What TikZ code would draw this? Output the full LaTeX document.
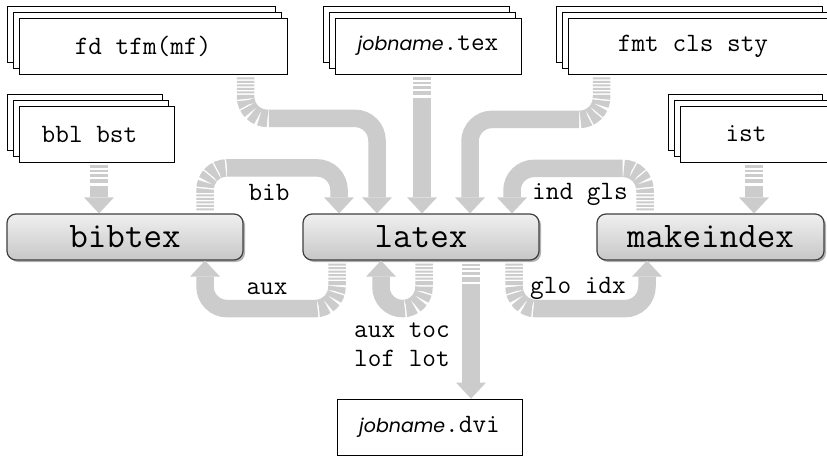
\documentclass[tikz,border=0pt]{standalone}
\usepackage{fontspec}
\newfontfamily\jobfont{Poppins}
\usetikzlibrary{arrows.meta,shadows}
\definecolor{flowgray}{RGB}{204,204,204}
\begin{document}
\begin{tikzpicture}[x=1pt,y=-1pt,
  filefont/.style={font=\ttfamily\fontsize{26.5}{29}\selectfont},
  doc/.style={draw, line width=0.8pt, fill=white, inner sep=0pt, filefont,
    general shadow={shadow xshift=-12pt,shadow yshift=12pt,draw,fill=white,line width=0.8pt},
    general shadow={shadow xshift=-6pt,shadow yshift=6pt,draw,fill=white,line width=0.8pt}},
  single/.style={draw, line width=0.8pt, fill=white, inner sep=0pt, filefont},
  proc/.style={rounded corners=9pt, draw=black!75, line width=1.2pt,
    top color=black!6, middle color=white, bottom color=black!22, inner sep=0pt,
    font=\ttfamily\fontsize{36}{40}\selectfont,
    drop shadow={shadow xshift=2pt,shadow yshift=-2pt,opacity=0.6}},
  lbl/.style={font=\ttfamily\fontsize{26.5}{29}\selectfont, inner sep=0pt},
  flow/.style={draw=flowgray, line width=17.5pt,
    -{Triangle[width=30pt,length=16pt,line width=0pt]},
    rounded corners=22pt, shorten <=3pt},
  fadeshort/.style={dash pattern=on 2.3pt off 2pt on 2.3pt off 2pt on 2.7pt off 2.3pt on 4.3pt off 2.3pt on 2000pt off 1pt},
  fadelong/.style={dash pattern=on 2pt off 1.5pt on 2pt off 1.5pt on 2pt off 1.5pt on 2pt off 1.5pt on 2pt off 1.5pt on 4pt off 1.5pt on 5pt off 1.5pt on 6pt off 1.5pt on 7pt off 1.5pt on 8pt off 1.5pt on 2000pt off 1pt},
]
\useasboundingbox[fill=white] (0,0) rectangle (827,455);

% file boxes
\node[doc, minimum width=268pt, minimum height=56pt] (fd) at (153,46) {fd tfm(mf)\hspace*{20pt}};
\node[doc, minimum width=186pt, minimum height=56pt] (jt) at (428,46) {{\jobfont\itshape\fontsize{19}{22}\selectfont jobname}.tex};
\node[doc, minimum width=266pt, minimum height=56pt] (fmt) at (701,46) {fmt cls sty\hspace*{16pt}};
\node[doc, minimum width=155pt, minimum height=56pt] (bbl) at (96.5,134) {bbl bst\hspace*{14pt}};
\node[doc, minimum width=154pt, minimum height=56pt] (ist) at (757,134) {ist\hspace*{22pt}};
\node[single, minimum width=185pt, minimum height=56pt] (dvi) at (429.5,427) {{\jobfont\itshape\fontsize{19}{22}\selectfont jobname}.dvi};

% programs
\node[proc, minimum width=236pt, minimum height=46pt] (bibtex) at (125,237) {bibtex};
\node[proc, minimum width=236pt, minimum height=46pt] (latex) at (421,237) {latex};
\node[proc, minimum width=227pt, minimum height=46pt] (makeindex) at (710.5,237) {makeindex};

% flows
\draw[flow, fadelong] ([xshift=92.5pt]fd.south) -- ++(0,44) -| ([xshift=-44pt]latex.north);
\draw[flow, fadeshort] ([xshift=-6pt]jt.south) -- ([xshift=1pt]latex.north);
\draw[flow, fadelong] ([xshift=-99.5pt]fmt.south) -- ++(0,45) -| ([xshift=49pt]latex.north);
\draw[flow, fadeshort] ([xshift=2.5pt]bbl.south) -- ([xshift=-26pt]bibtex.north);
\draw[flow, fadeshort] ([xshift=-3pt]ist.south) -- ([xshift=43.5pt]makeindex.north);
\draw[flow, fadelong] ([xshift=80pt]bibtex.north) -- ++(0,-45.5) -| ([xshift=-82pt]latex.north);
\draw[flow, fadelong] ([xshift=-65.5pt]makeindex.north) -- ++(0,-45) -| ([xshift=91pt]latex.north);
\draw[flow, fadelong] ([xshift=-84pt]latex.south) -- ++(0,48) -| ([xshift=80pt]bibtex.south);
\draw[flow, fadelong, rounded corners=21.5pt] ([xshift=3pt]latex.south) -- ++(0,48) -| ([xshift=-40pt]latex.south);
\draw[flow, fadeshort] ([xshift=50pt]latex.south) -- ([xshift=41.5pt]dvi.north);
\draw[flow, fadelong] ([xshift=93pt]latex.south) -- ++(0,48) -| ([xshift=-63.5pt]makeindex.south);

% labels
\node[lbl, anchor=base] (lbib) at (269,200) {bib};
\node[lbl, anchor=base] (lind) at (580,199) {ind gls};
\node[lbl, anchor=base] (laux) at (267,294) {aux};
\node[lbl, anchor=base] (lglo) at (578,293) {glo idx};
\node[lbl, align=center] (ltoc) at (402,345) {aux toc\\lof lot};
\end{tikzpicture}
\end{document}
